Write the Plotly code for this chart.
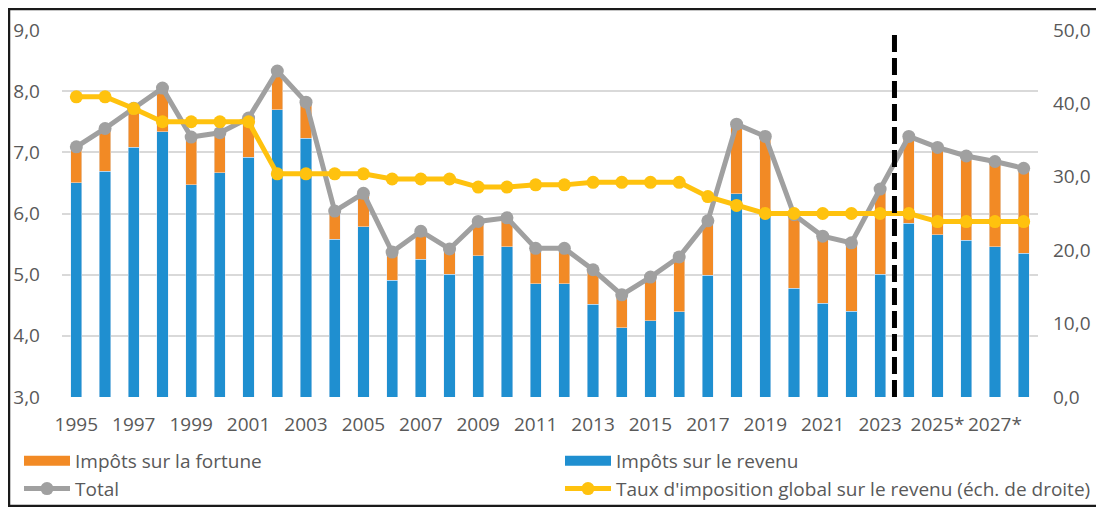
import plotly.graph_objects as go

years = list(range(1995, 2029))
tick_years = list(range(1995, 2029, 2))
tick_labels = [str(y) + ("*" if y >= 2025 else "") for y in tick_years]

impots_revenu = [6.50, 6.69, 7.08, 7.34, 6.47, 6.67, 6.92, 7.70, 7.23, 5.58,
                 5.78, 4.91, 5.25, 5.01, 5.31, 5.46, 4.85, 4.85, 4.52, 4.13,
                 4.25, 4.39, 4.99, 6.32, 5.95, 4.78, 4.53, 4.40, 5.01, 5.84,
                 5.65, 5.56, 5.46, 5.35]
impots_fortune = [0.59, 0.70, 0.64, 0.71, 0.78, 0.65, 0.64, 0.63, 0.59, 0.46,
                  0.55, 0.46, 0.46, 0.41, 0.56, 0.47, 0.58, 0.58, 0.56, 0.54,
                  0.71, 0.90, 0.89, 1.14, 1.31, 1.20, 1.10, 1.12, 1.39, 1.42,
                  1.43, 1.38, 1.39, 1.39]
total = [7.09, 7.39, 7.72, 8.05, 7.25, 7.32, 7.56, 8.33, 7.82, 6.04,
         6.33, 5.37, 5.71, 5.42, 5.87, 5.93, 5.43, 5.43, 5.08, 4.67,
         4.96, 5.29, 5.88, 7.46, 7.26, 5.98, 5.63, 5.52, 6.40, 7.26,
         7.08, 6.94, 6.85, 6.74]
taux = [40.9, 40.9, 39.3, 37.5, 37.5, 37.5, 37.5, 30.4, 30.4, 30.4,
        30.4, 29.7, 29.7, 29.7, 28.6, 28.6, 28.9, 28.9, 29.25, 29.25,
        29.25, 29.25, 27.3, 26.1, 25.0, 25.0, 25.0, 25.0, 25.0, 25.0,
        23.9, 23.9, 23.9, 23.9]

BLUE = "#1F8FD0"
ORANGE = "#F28A25"
GRAY = "#A0A0A0"
YELLOW = "#FFC20E"
TXT = "#595959"
FONT = "Open Sans"

# page body has an 8px margin: lay the figure out in coordinates shifted by 8px
OFF = 8
PL, PR, PT, PB = 62 - OFF, 1038 - OFF, 30 - OFF, 397 - OFF
PW, PH = PR - PL, PB - PT

fig = go.Figure()
fig.add_trace(go.Bar(x=years, y=impots_revenu, marker_color=BLUE, name="Impôts sur le revenu",
                     showlegend=False))
fig.add_trace(go.Bar(x=years, y=impots_fortune, marker_color=ORANGE, name="Impôts sur la fortune",
                     showlegend=False))
fig.add_trace(go.Scatter(x=years, y=total, mode="lines+markers", name="Total",
                         line=dict(color=GRAY, width=5), marker=dict(size=13, color=GRAY),
                         legend="legend", legendrank=2))
fig.add_trace(go.Scatter(x=years, y=taux, mode="lines+markers", yaxis="y2",
                         name="Taux d'imposition global sur le revenu (éch. de droite)",
                         line=dict(color=YELLOW, width=5), marker=dict(size=13, color=YELLOW),
                         legend="legend2", legendrank=2))
# legend proxies for the bar series (wide rectangles as in the reference)
fig.add_trace(go.Scatter(x=[None], y=[None], mode="lines", name="Impôts sur la fortune",
                         line=dict(color=ORANGE, width=13), legend="legend", legendrank=1))
fig.add_trace(go.Scatter(x=[None], y=[None], mode="lines", name="Impôts sur le revenu",
                         line=dict(color=BLUE, width=13), legend="legend2", legendrank=1))

fig.add_shape(type="line", xref="x", yref="paper", x0=2023.5, x1=2023.5, y0=0, y1=0.992,
              line=dict(color="black", width=5, dash="17px,6px"), layer="above")
fig.add_shape(type="rect", xref="paper", yref="paper",
              x0=(9 - OFF - PL) / PW, x1=(1099 - OFF - PL) / PW,
              y0=(PB - (506 - OFF)) / PH, y1=(PB - (9 - OFF)) / PH,
              line=dict(color="#1a1a1a", width=2.5), fillcolor="rgba(0,0,0,0)", layer="above")

legend_common = dict(font=dict(family=FONT, size=19, color=TXT), bgcolor="rgba(0,0,0,0)",
                     xref="container", yref="container", xanchor="left", yanchor="top",
                     itemwidth=46, traceorder="normal", orientation="v")

fig.update_layout(
    width=1104, height=507,
    margin=dict(l=PL, r=1104 - PR, t=PT, b=507 - PB, autoexpand=False),
    paper_bgcolor="white", plot_bgcolor="white",
    barmode="stack", bargap=0.61,
    separators=", ",
    font=dict(family=FONT, size=19, color=TXT),
    xaxis=dict(range=[1994.5, 2028.5], tickvals=tick_years, ticktext=tick_labels, tickangle=0,
               showgrid=False, zeroline=False, showline=False, ticks="",
               ticklabelstandoff=14, tickfont=dict(family=FONT, size=19, color=TXT)),
    yaxis=dict(range=[3, 9], dtick=1, tickformat=".1f", showgrid=True, gridcolor="#D9D9D9",
               gridwidth=1.5, zeroline=False, showline=False, ticks="",
               ticklabelstandoff=21, tickfont=dict(family=FONT, size=19, color=TXT)),
    yaxis2=dict(range=[0, 50], dtick=10, tickformat=".1f", overlaying="y", side="right",
                showgrid=False, zeroline=False, showline=False, ticks="",
                ticklabelstandoff=14, tickfont=dict(family=FONT, size=19, color=TXT)),
    legend=dict(x=11 / 1104, y=1 - 434 / 507, tracegroupgap=0, **legend_common),
    legend2=dict(x=552 / 1104, y=1 - 434 / 507, tracegroupgap=0, **legend_common),
)

fig.write_html("out.html")
